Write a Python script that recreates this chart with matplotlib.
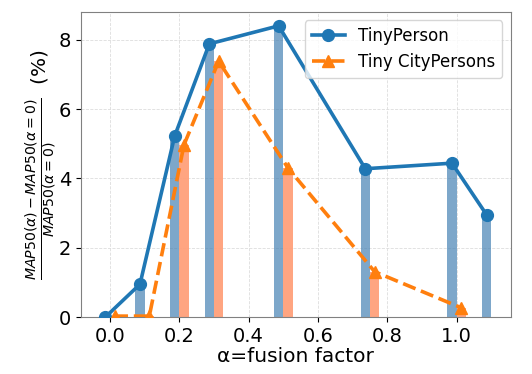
import numpy as np
import matplotlib
matplotlib.use("Agg")
import matplotlib.pyplot as plt

# fusion factor values
alpha_tp = [0.0, 0.1, 0.2, 0.3, 0.5, 0.75, 1.0, 1.1]
gain_tp = [0.0, 0.95, 5.22, 7.88, 8.40, 4.28, 4.44, 2.95]

alpha_cp = [0.0, 0.1, 0.2, 0.3, 0.5, 0.75, 1.0]
gain_cp = [0.03, 0.03, 4.97, 7.38, 4.30, 1.31, 0.27]

off = 0.0135
w = 0.027

fig, ax = plt.subplots(figsize=(5.32, 3.74), dpi=100)
fig.subplots_adjust(left=0.152, right=0.96, bottom=0.152, top=0.968)

x_tp = np.array(alpha_tp) - off
x_cp = np.array(alpha_cp) + off

ax.bar(x_tp, gain_tp, width=w, color="steelblue", alpha=0.7, zorder=2)
ax.bar(x_cp, gain_cp, width=w, color="lightsalmon", alpha=0.95, zorder=2)

ax.plot(x_tp, gain_tp, "-o", color="tab:blue", lw=2.6, ms=8.5,
        label="TinyPerson", zorder=3)
ax.plot(x_cp, gain_cp, "--^", color="tab:orange", lw=2.6, ms=8.5,
        label="Tiny CityPersons", zorder=3)

ax.set_xlim(-0.084, 1.156)
ax.set_ylim(0, 8.8)
ax.set_xticks([0.0, 0.2, 0.4, 0.6, 0.8, 1.0])
ax.set_yticks([0, 2, 4, 6, 8])
ax.tick_params(labelsize=14)
ax.grid(True, color="#dddddd", linestyle="--", linewidth=0.6, zorder=0)
ax.set_axisbelow(True)
for s in ax.spines.values():
    s.set_color("gray")

ax.set_xlabel("α=fusion factor", fontsize=14.5, labelpad=1)
ax.set_ylabel(r"$\frac{MAP50(\alpha)-MAP50(\alpha=0)}{MAP50(\alpha=0)}$  (%)",
              fontsize=14.5, labelpad=0)
ax.legend(loc="upper right", fontsize=12)

plt.savefig("out.png")
